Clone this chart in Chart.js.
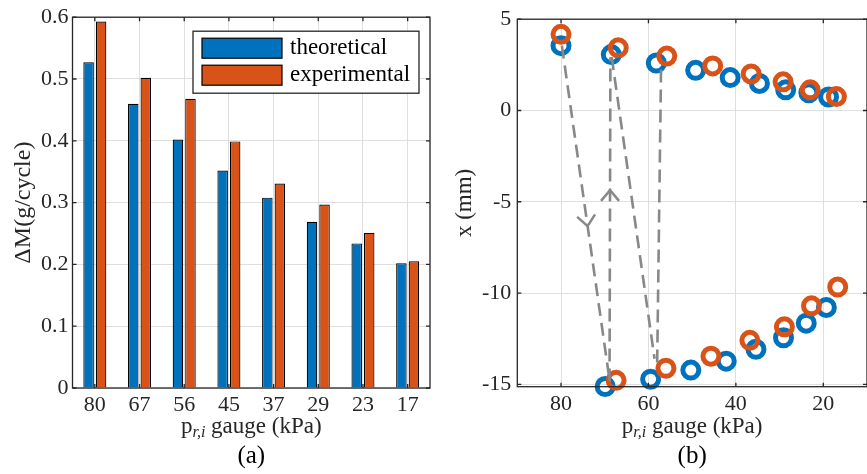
<!DOCTYPE html>
<html>
<head>
<meta charset="utf-8">
<script src="https://cdn.jsdelivr.net/npm/chart.js@4"></script>
<style>
  html, body { margin: 0; padding: 0; background: #fff; overflow: hidden; }
  #wrap { position: relative; width: 867px; height: 474px; overflow: hidden; }
  #barChart { position: absolute; left: 0; top: 0; }
  #posChart { position: absolute; left: 440px; top: 0; }
</style>
</head>
<body>
<div id="wrap">
  <canvas id="barChart" width="440" height="474"></canvas>
  <canvas id="posChart" width="440" height="474"></canvas>
</div>
<script>
// (a) mass change per cycle
const pressureLabels = ['80', '67', '56', '45', '37', '29', '23', '17'];
const theoretical = [0.527, 0.460, 0.402, 0.352, 0.308, 0.269, 0.234, 0.202];
const experimental = [0.593, 0.502, 0.468, 0.399, 0.331, 0.297, 0.251, 0.205];
const dmTicks = [0, 0.1, 0.2, 0.3, 0.4, 0.5, 0.6];

// (b) piston position vs pressure, upper and lower branch
const theoTopP = [80, 68.5, 58.2, 49.2, 41.3, 34.6, 28.6, 23.3, 18.8];
const theoTopX = [3.55, 3.06, 2.60, 2.20, 1.80, 1.48, 1.13, 0.97, 0.74];
const expTopP = [80, 66.9, 55.8, 45.3, 36.5, 29.2, 23.0, 17.0];
const expTopX = [4.17, 3.43, 2.98, 2.44, 2.00, 1.57, 1.13, 0.76];
const theoBotP = [69.9, 59.5, 50.3, 42.2, 35.4, 29.1, 23.9, 19.3];
const theoBotX = [-15.12, -14.72, -14.22, -13.73, -13.08, -12.45, -11.65, -10.79];
const expBotP = [67.4, 56.0, 45.7, 36.8, 28.9, 22.7, 16.7];
const expBotX = [-14.78, -14.12, -13.46, -12.59, -11.85, -10.70, -9.67];

// dashed cycle paths (start, end) and where the arrow head sits
const cyclePathP = [[79.8, 68.9], [68.9, 68.7], [68.4, 58.6], [58.0, 57.1]];
const cyclePathX = [[3.55, -14.76], [-14.85, 2.92], [2.92, -13.6], [-13.8, 2.56]];
const arrowAt = [0.54, 0.59, null, null];

const pTicks = [80, 60, 40, 20];
const xTicks = [5, 0, -5, -10, -15];

const blue = '#0072BD';
const orange = '#D95319';
const ink = '#262626';
const gridColor = '#dfdfdf';
const serif = '"Liberation Serif", "DejaVu Serif", serif';

Chart.defaults.font.family = serif;
Chart.defaults.color = ink;

const toPts = (ps, xs) => ps.map((p, i) => ({ x: p, y: xs[i] }));

// box round the axes with small inward ticks, like matlab
const framePlugin = {
  id: 'frame',
  afterDatasetsDraw(chart) {
    const { ctx, chartArea: a, scales: { x, y } } = chart;
    ctx.save();
    ctx.strokeStyle = ink;
    ctx.lineWidth = 1.3;
    ctx.strokeRect(a.left, a.top, a.right - a.left, a.bottom - a.top);
    ctx.beginPath();
    x.ticks.forEach((t, i) => {
      const px = x.getPixelForTick(i);
      ctx.moveTo(px, a.bottom); ctx.lineTo(px, a.bottom - 4);
      ctx.moveTo(px, a.top); ctx.lineTo(px, a.top + 4);
    });
    y.ticks.forEach((t, i) => {
      const py = y.getPixelForTick(i);
      ctx.moveTo(a.left, py); ctx.lineTo(a.left + 4, py);
      ctx.moveTo(a.right, py); ctx.lineTo(a.right - 4, py);
    });
    ctx.stroke();
    ctx.restore();
  }
};

// x title with subscript, and the (a)/(b) caption
const captionPlugin = {
  id: 'captions',
  afterDraw(chart, args, opts) {
    const { ctx, chartArea: a } = chart;
    const cx = (a.left + a.right) / 2;
    const main = '23px ' + serif;
    const sub = 'italic 16px ' + serif;
    ctx.save();
    ctx.fillStyle = ink;
    ctx.textBaseline = 'alphabetic';
    ctx.font = main;
    const w1 = ctx.measureText('p').width;
    const w3 = ctx.measureText(' gauge (kPa)').width;
    ctx.font = sub;
    const w2 = ctx.measureText('r,i').width;
    let x0 = cx - (w1 + w2 + w3) / 2;
    const base = 433;
    ctx.font = main;
    ctx.fillText('p', x0, base);
    ctx.font = sub;
    ctx.fillText('r,i', x0 + w1, base + 4);
    ctx.font = main;
    ctx.fillText(' gauge (kPa)', x0 + w1 + w2, base);
    ctx.font = '25px ' + serif;
    ctx.textAlign = 'center';
    ctx.fillStyle = '#000';
    ctx.fillText(opts.caption, cx, 463);
    ctx.restore();
  }
};

const legendPlugin = {
  id: 'legendBox',
  afterDraw(chart) {
    const { ctx, chartArea: a } = chart;
    const w = 226, h = 62;
    const bx = a.right - 11 - w, by = a.top + 14;
    ctx.save();
    ctx.fillStyle = '#fff';
    ctx.fillRect(bx, by, w, h);
    ctx.strokeStyle = ink;
    ctx.lineWidth = 1.3;
    ctx.strokeRect(bx, by, w, h);
    chart.data.datasets.forEach((ds, i) => {
      const sy = by + 7 + i * 27;
      ctx.fillStyle = ds.backgroundColor;
      ctx.fillRect(bx + 9, sy, 80, 20);
      ctx.strokeStyle = '#000';
      ctx.lineWidth = 1.2;
      ctx.strokeRect(bx + 9, sy, 80, 20);
      ctx.fillStyle = '#000';
      ctx.font = '23px ' + serif;
      ctx.textBaseline = 'middle';
      ctx.fillText(ds.label, bx + 97, sy + 10);
    });
    ctx.restore();
  }
};

const arrowPlugin = {
  id: 'arrowHeads',
  afterDatasetsDraw(chart) {
    const ctx = chart.ctx;
    arrowAt.forEach((f, i) => {
      if (f == null) return;
      const pts = chart.getDatasetMeta(i).data;
      const p0 = pts[0], p1 = pts[1];
      const tx = p0.x + (p1.x - p0.x) * f;
      const ty = p0.y + (p1.y - p0.y) * f;
      const ang = Math.atan2(p1.y - p0.y, p1.x - p0.x);
      ctx.save();
      ctx.strokeStyle = '#888';
      ctx.lineWidth = 2.5;
      ctx.beginPath();
      ctx.moveTo(tx - 14 * Math.cos(ang - 0.7), ty - 14 * Math.sin(ang - 0.7));
      ctx.lineTo(tx, ty);
      ctx.lineTo(tx - 14 * Math.cos(ang + 0.7), ty - 14 * Math.sin(ang + 0.7));
      ctx.stroke();
      ctx.restore();
    });
  }
};

const tickFont = { size: 22, family: serif };

new Chart(document.getElementById('barChart'), {
  type: 'bar',
  data: {
    labels: pressureLabels,
    datasets: [
      { label: 'theoretical', data: theoretical, backgroundColor: blue, borderColor: '#000', borderWidth: 1.2 },
      { label: 'experimental', data: experimental, backgroundColor: orange, borderColor: '#000', borderWidth: 1.2 }
    ]
  },
  plugins: [framePlugin, legendPlugin, captionPlugin],
  options: {
    responsive: false,
    animation: false,
    categoryPercentage: 0.56,
    barPercentage: 0.84,
    layout: { padding: { left: 0, right: 10, top: 15, bottom: 0 } },
    plugins: {
      legend: { display: false },
      tooltip: { enabled: false },
      captions: { caption: '(a)' }
    },
    scales: {
      x: {
        grid: { color: gridColor, offset: false, drawTicks: false },
        border: { display: false },
        ticks: { font: tickFont, color: ink, padding: 4, maxRotation: 0 },
        afterFit: s => { s.height = 86; }
      },
      y: {
        min: 0,
        max: 0.6,
        grid: { color: gridColor, drawTicks: false },
        border: { display: false },
        afterBuildTicks: s => { s.ticks = dmTicks.map(v => ({ value: v })); },
        ticks: { font: tickFont, color: ink, padding: 4, callback: v => v === 0 ? '0' : v.toFixed(1) },
        title: { display: true, text: 'ΔM(g/cycle)', font: { size: 24, family: serif }, color: ink, padding: { top: 9, bottom: 0 } },
        afterFit: s => { s.width = 72.5; }
      }
    }
  }
});

const pathSets = cyclePathP.map((ps, i) => ({
  type: 'line',
  data: toPts(ps, cyclePathX[i]),
  borderColor: '#888',
  borderWidth: 2.6,
  borderDash: [13, 7],
  pointRadius: 0,
  fill: false,
  clip: false
}));

const ring = (data, color) => ({
  data,
  showLine: false,
  pointStyle: 'circle',
  pointRadius: 8,
  pointBorderWidth: 5,
  pointBorderColor: color,
  pointBackgroundColor: 'rgba(0,0,0,0)',
  borderColor: color,
  backgroundColor: 'rgba(0,0,0,0)',
  clip: false
});

new Chart(document.getElementById('posChart'), {
  type: 'scatter',
  data: {
    datasets: [
      ...pathSets,
      ring(toPts(expTopP, expTopX), orange),
      ring(toPts(expBotP, expBotX), orange),
      ring(toPts(theoTopP, theoTopX), blue),
      ring(toPts(theoBotP, theoBotX), blue)
    ]
  },
  plugins: [framePlugin, arrowPlugin, captionPlugin],
  options: {
    responsive: false,
    animation: false,
    layout: { padding: { left: 0, right: 7, top: 15, bottom: 0 } },
    plugins: {
      legend: { display: false },
      tooltip: { enabled: false },
      captions: { caption: '(b)' }
    },
    scales: {
      x: {
        type: 'linear',
        min: 10,
        max: 90,
        reverse: true,
        grid: { color: gridColor, drawTicks: false },
        border: { display: false },
        afterBuildTicks: s => { s.ticks = pTicks.map(v => ({ value: v })); },
        ticks: { font: tickFont, color: ink, padding: 4, maxRotation: 0 },
        afterFit: s => { s.height = 87.3; }
      },
      y: {
        min: -15.13,
        max: 5,
        grid: { color: gridColor, drawTicks: false },
        border: { display: false },
        afterBuildTicks: s => { s.ticks = xTicks.map(v => ({ value: v })); },
        ticks: { font: tickFont, color: ink, padding: 6, callback: v => String(v) },
        title: { display: true, text: 'x (mm)', font: { size: 23, family: serif }, color: ink, padding: { top: 11, bottom: 0 } },
        afterFit: s => { s.width = 77.3; }
      }
    }
  }
});
</script>
</body>
</html>
